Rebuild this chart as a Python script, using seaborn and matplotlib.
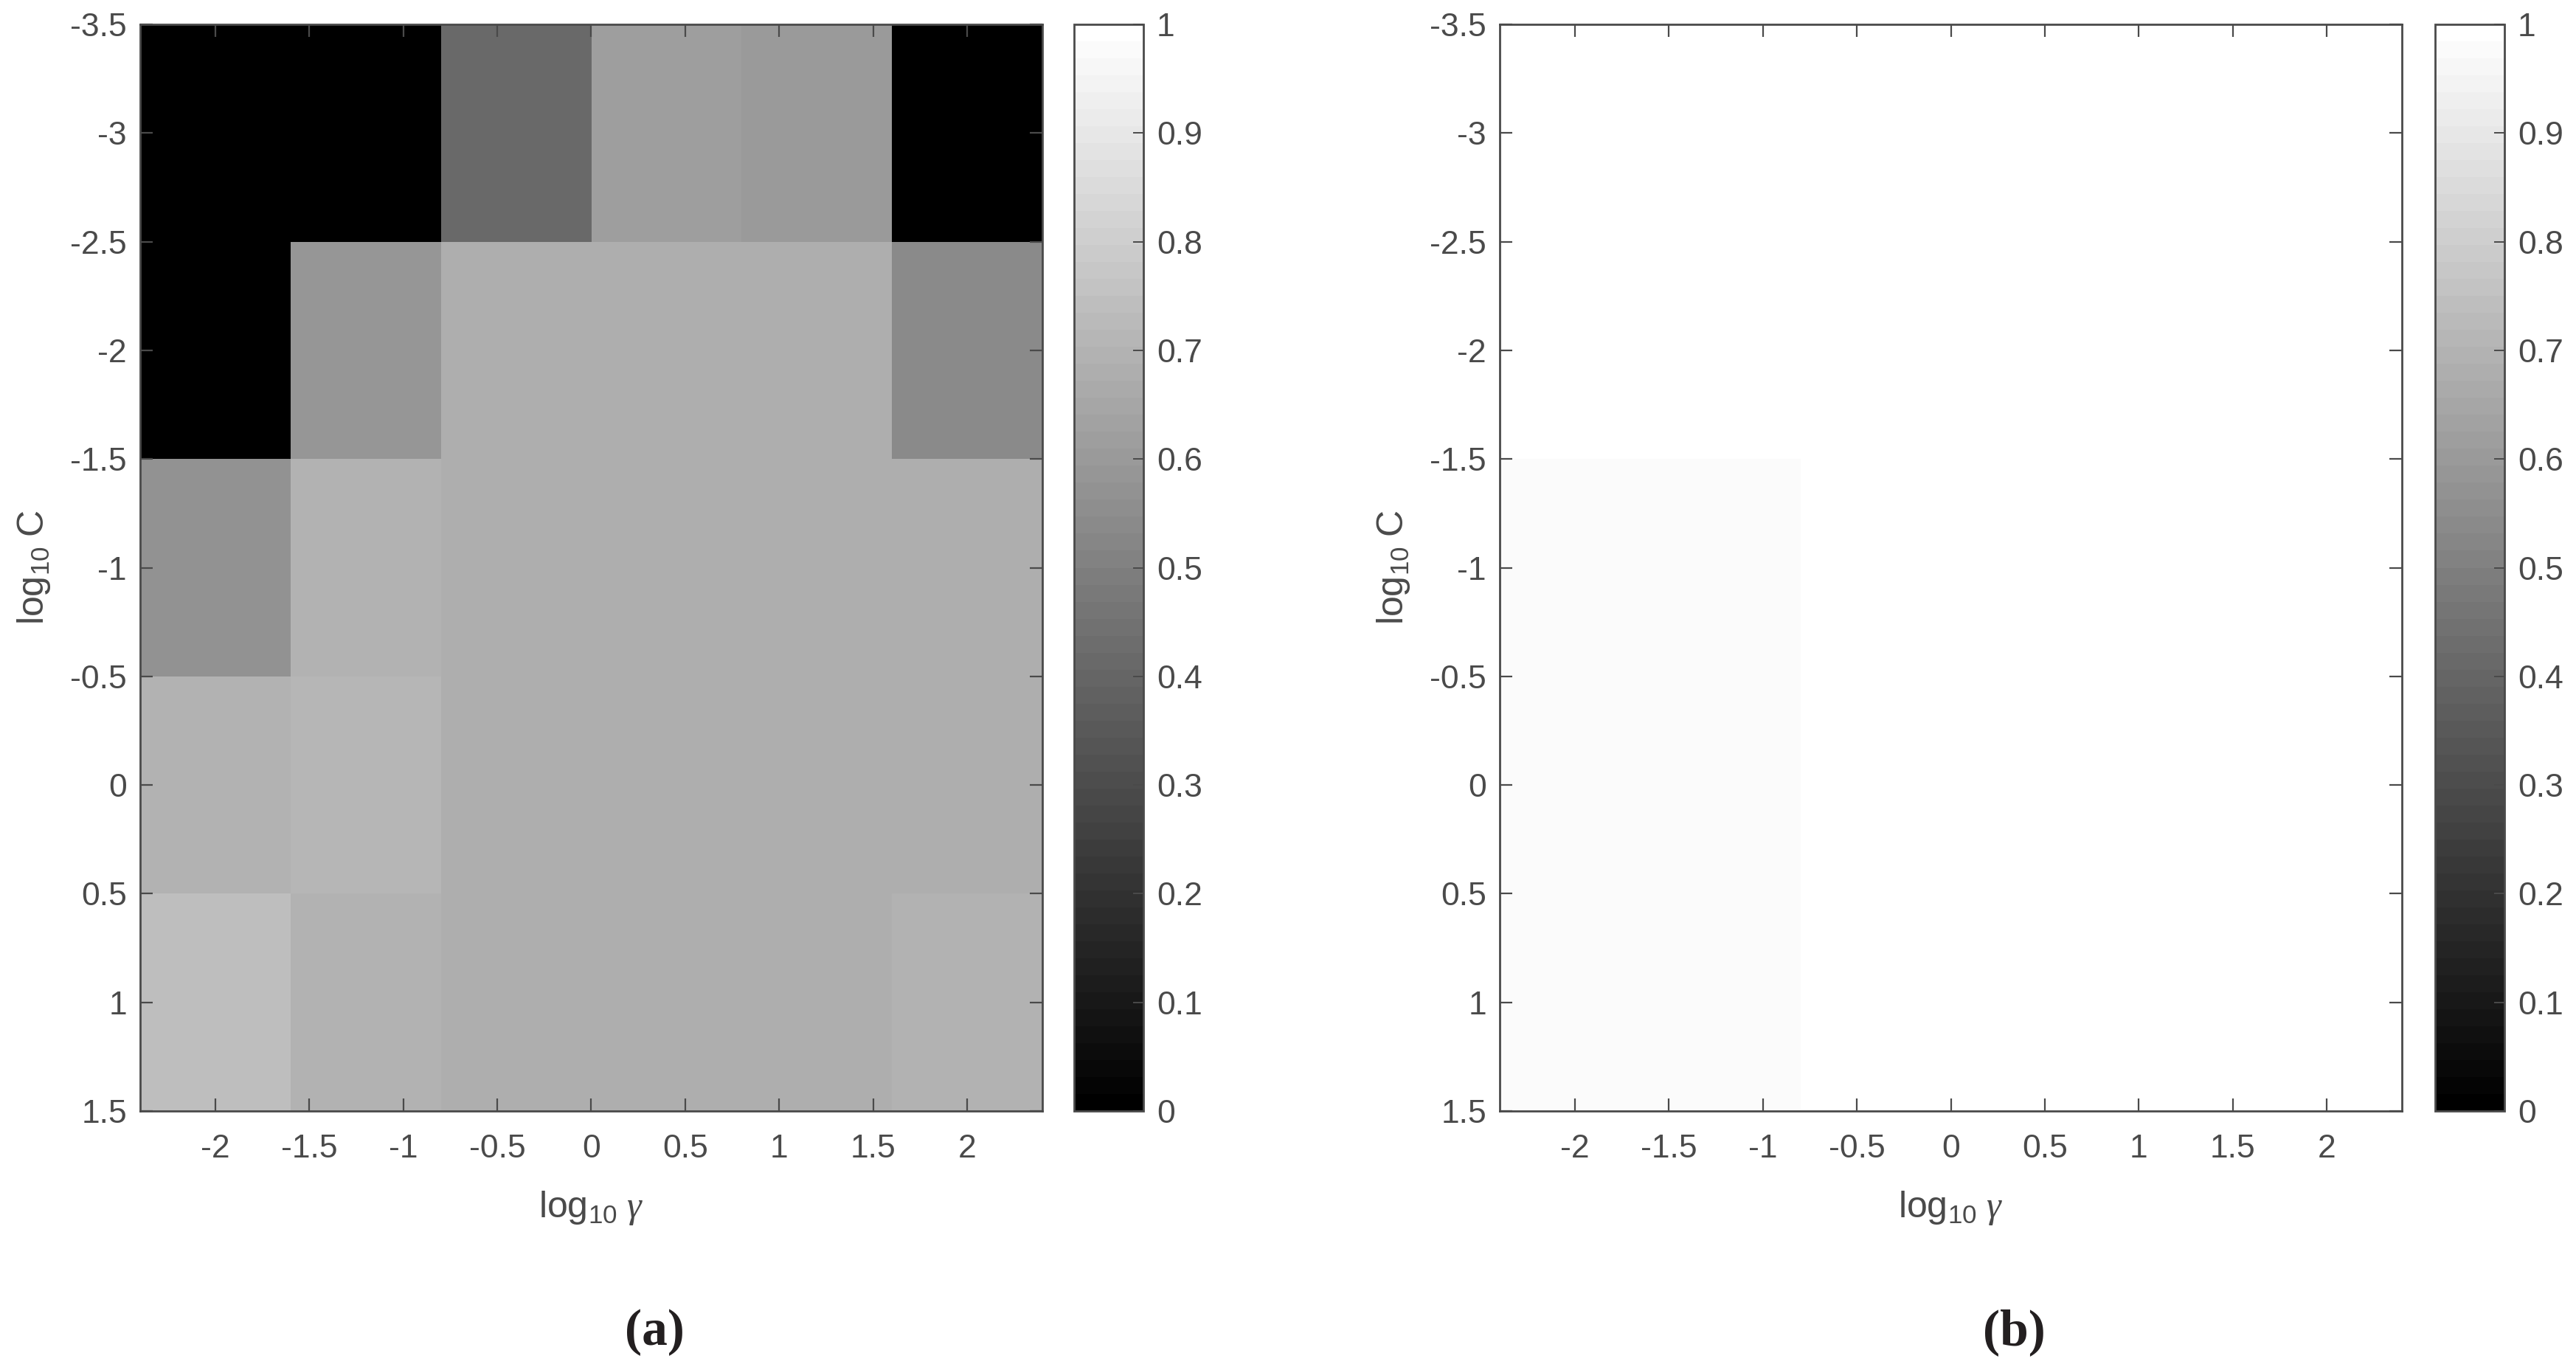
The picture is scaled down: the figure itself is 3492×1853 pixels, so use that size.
import numpy as np
import pandas as pd
import matplotlib
matplotlib.use("Agg")
import matplotlib.pyplot as plt
import seaborn as sns
from matplotlib.colors import ListedColormap

# ---------------- data ----------------
log_gamma = [-2.0, -1.2, -0.4, 0.4, 1.2, 2.0]   # column centres
log_C = [-3, -2, -1, 0, 1]                       # row centres

acc_a = [
    [0.000, 0.000, 0.410, 0.610, 0.595, 0.000],
    [0.000, 0.590, 0.680, 0.680, 0.680, 0.545],
    [0.570, 0.700, 0.680, 0.680, 0.680, 0.680],
    [0.695, 0.715, 0.680, 0.680, 0.680, 0.680],
    [0.735, 0.695, 0.680, 0.680, 0.680, 0.695],
]
acc_b = [
    [1.000, 1.000, 1.000, 1.000, 1.000, 1.000],
    [1.000, 1.000, 1.000, 1.000, 1.000, 1.000],
    [0.975, 0.975, 1.000, 1.000, 1.000, 1.000],
    [0.975, 0.975, 1.000, 1.000, 1.000, 1.000],
    [0.975, 0.975, 1.000, 1.000, 1.000, 1.000],
]

x_tick_vals = [-2, -1.5, -1, -0.5, 0, 0.5, 1, 1.5, 2]
y_tick_vals = [-3.5, -3, -2.5, -2, -1.5, -1, -0.5, 0, 0.5, 1, 1.5]
cbar_tick_vals = [0, 0.1, 0.2, 0.3, 0.4, 0.5, 0.6, 0.7, 0.8, 0.9, 1]
panel_labels = ["(a)", "(b)"]

# ---------------- style ----------------
FG = "#4a4a4a"
plt.rcParams["font.family"] = ["Liberation Sans", "DejaVu Sans"]
plt.rcParams["mathtext.fontset"] = "custom"
plt.rcParams["mathtext.rm"] = "Liberation Sans"
plt.rcParams["mathtext.it"] = "Liberation Serif:italic"
plt.rcParams["mathtext.bf"] = "Liberation Sans:bold"

W, H = 3492, 1853
fig = plt.figure(figsize=(W / 100, H / 100), dpi=100)

def fx(px):
    return px / W

ax_top, ax_bot = 33, 1506
ax_w = 1223
cb_w = 94
panels = [
    (190, 1456, acc_a, 887),
    (2033, 3301, acc_b, 2730),
]

cmap = ListedColormap(plt.get_cmap("gray")(np.linspace(0, 1, 64)))

def fmt(v):
    return ("%g" % v)

dx = log_gamma[1] - log_gamma[0]
dy = log_C[1] - log_C[0]
x0 = log_gamma[0] - dx / 2
y0 = log_C[0] - dy / 2

for (axl, cbl, vals, capx), lab in zip(panels, panel_labels):
    ax = fig.add_axes([fx(axl), (H - ax_bot) / H, fx(ax_w), (ax_bot - ax_top) / H])
    cax = fig.add_axes([fx(cbl), (H - ax_bot) / H, fx(cb_w), (ax_bot - ax_top) / H])
    df = pd.DataFrame(vals, index=log_C, columns=log_gamma)
    sns.heatmap(df, ax=ax, cmap=cmap, vmin=0, vmax=1, cbar=True, cbar_ax=cax,
                xticklabels=False, yticklabels=False, linewidths=0)

    # axis ticks in data units mapped onto heatmap cell coordinates
    ax.set_xticks([(v - x0) / dx for v in x_tick_vals])
    ax.set_xticklabels([fmt(v) for v in x_tick_vals])
    ax.set_yticks([(v - y0) / dy for v in y_tick_vals])
    ax.set_yticklabels([fmt(v) for v in y_tick_vals], rotation=0)
    for s in ax.spines.values():
        s.set_visible(True)
        s.set_color(FG)
        s.set_linewidth(2.0)
    ax.tick_params(axis="both", direction="in", length=12, width=1.6, color=FG,
                   labelcolor=FG, labelsize=32, top=True, right=True)
    ax.tick_params(axis="x", pad=22)
    ax.tick_params(axis="y", pad=13)
    ax.set_xlabel(r"$\mathregular{log_{10}}\ \mathit{\gamma}$", fontsize=36, color=FG)
    ax.set_ylabel(r"$\mathregular{log_{10}\ C}$", fontsize=36, color=FG)
    ax.xaxis.set_label_coords(0.5, -0.072)
    ax.yaxis.set_label_coords(-0.097, 0.5)

    # colorbar
    cb = ax.collections[0].colorbar
    cb.set_ticks(cbar_tick_vals)
    cb.set_ticklabels([fmt(v) for v in cbar_tick_vals])
    cb.outline.set_linewidth(2.0)
    cb.outline.set_edgecolor(FG)
    cax.yaxis.set_ticks_position("right")
    cax.tick_params(axis="y", direction="in", length=10, width=1.4, color=FG,
                    labelcolor=FG, labelsize=32, pad=13)

    fig.text(fx(capx), (H - 1806) / H, lab, ha="center", va="center",
             fontsize=50, fontweight="bold", color="#231f20",
             family=["Liberation Serif", "DejaVu Serif"])

fig.savefig("out.png", dpi=100, facecolor="white")
